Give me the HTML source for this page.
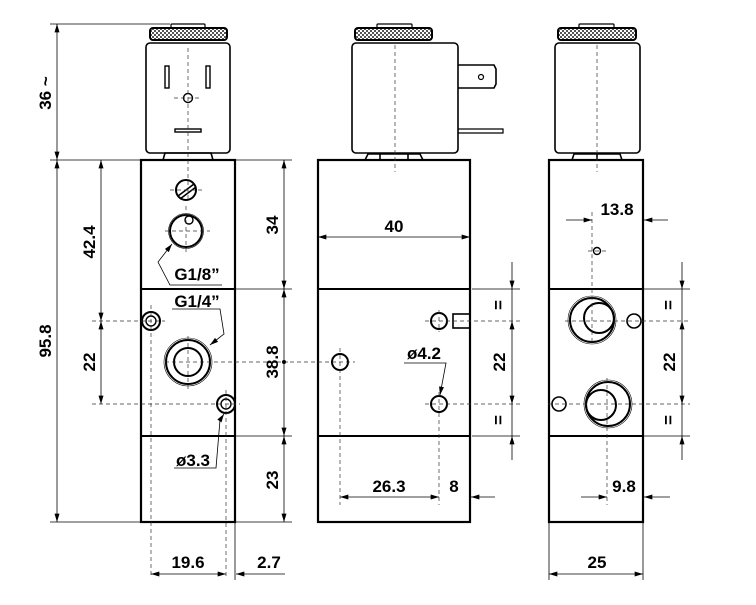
<!DOCTYPE html>
<html><head><meta charset="utf-8"><style>html,body{margin:0;padding:0;background:#fff}svg{display:block}</style></head><body>
<svg width="756" height="605" viewBox="0 0 756 605" xmlns="http://www.w3.org/2000/svg" font-family="Liberation Sans, Arial, sans-serif" font-weight="bold" font-size="17">
<defs>
<pattern id="kn" width="4" height="4" patternUnits="userSpaceOnUse"><rect width="4" height="4" fill="#fff"/><rect width="2" height="2" fill="#555"/><rect x="2" y="2" width="2" height="2" fill="#555"/></pattern>
<marker id="a" viewBox="0 0 10 6" refX="10" refY="3" markerWidth="12" markerHeight="5" orient="auto-start-reverse" markerUnits="userSpaceOnUse"><path d="M0,0L10,3L0,6z" fill="#000"/></marker>
</defs>
<g stroke="#000" fill="none">
<!-- LEFT VIEW -->
<rect x="171" y="24" width="34" height="5" rx="1" stroke-width="1.2"/>
<rect x="150" y="28" width="77" height="12" rx="3" fill="url(#kn)" stroke-width="2"/>
<rect x="146" y="43" width="84" height="110" rx="4" stroke-width="1.6"/>
<path d="M163,160 L165,153 H211 L213,160" stroke-width="1.6"/>
<rect x="141" y="160" width="94" height="362" stroke-width="2.2"/>
<line x1="141" y1="289" x2="235" y2="289" stroke-width="2"/>
<line x1="141" y1="436" x2="235" y2="436" stroke-width="2"/>
<rect x="165" y="66" width="4" height="22" stroke-width="1.4"/>
<rect x="206" y="66" width="4" height="22" stroke-width="1.4"/>
<circle cx="188" cy="98" r="4.5" stroke-width="1.4"/>
<rect x="175" y="129" width="26" height="3" stroke-width="1.4"/>
<circle cx="186" cy="190" r="10" stroke-width="2"/>
<line x1="178" y1="196" x2="194" y2="184" stroke-width="1.6"/><line x1="180" y1="199" x2="196" y2="187" stroke-width="1.6"/>
<circle cx="186" cy="231" r="16" stroke-width="2"/><circle cx="186" cy="231" r="17.5" stroke-width="0.6"/>
<circle cx="189" cy="220" r="4" stroke-width="1.4"/>
<circle cx="151" cy="321" r="9" stroke-width="2"/><circle cx="151" cy="321" r="5" stroke-width="1.4"/>
<circle cx="188" cy="362" r="22" stroke-width="2"/><circle cx="188" cy="362" r="14" stroke-width="2"/><circle cx="188" cy="362" r="24" stroke-width="0.6"/>
<circle cx="226" cy="404" r="9" stroke-width="2"/><circle cx="226" cy="404" r="5" stroke-width="1.4"/>
<g stroke-width="0.7" stroke="#333" stroke-dasharray="4,3">
<line x1="188" y1="48" x2="188" y2="200"/><line x1="174" y1="98" x2="202" y2="98"/>
<line x1="170" y1="190" x2="202" y2="190"/><line x1="186" y1="206" x2="186" y2="252"/><line x1="165" y1="231" x2="210" y2="231"/>
<line x1="92" y1="321" x2="165" y2="321"/><line x1="151" y1="305" x2="151" y2="578"/>
<line x1="165" y1="362" x2="290" y2="362"/><line x1="188" y1="336" x2="188" y2="390"/>
<line x1="92" y1="404" x2="240" y2="404"/><line x1="226" y1="390" x2="226" y2="578"/>
</g>
<g stroke-width="0.8">
<line x1="50" y1="24" x2="170" y2="24"/><line x1="50" y1="160" x2="140" y2="160"/><line x1="50" y1="522" x2="140" y2="522"/>
<line x1="236" y1="160" x2="292" y2="160"/><line x1="236" y1="289" x2="292" y2="289"/><line x1="236" y1="436" x2="292" y2="436"/><line x1="236" y1="522" x2="292" y2="522"/>
<line x1="235" y1="523" x2="235" y2="580"/>
<line x1="57" y1="24" x2="57" y2="160" marker-start="url(#a)" marker-end="url(#a)"/>
<line x1="57" y1="160" x2="57" y2="522" marker-start="url(#a)" marker-end="url(#a)"/>
<line x1="101" y1="160" x2="101" y2="289" marker-start="url(#a)"/>
<line x1="101" y1="289" x2="101" y2="321" marker-end="url(#a)"/>
<line x1="101" y1="321" x2="101" y2="404" marker-start="url(#a)" marker-end="url(#a)"/>
<line x1="284" y1="160" x2="284" y2="289" marker-start="url(#a)" marker-end="url(#a)"/>
<line x1="284" y1="289" x2="284" y2="436" marker-start="url(#a)" marker-end="url(#a)"/>
<line x1="284" y1="436" x2="284" y2="522" marker-start="url(#a)" marker-end="url(#a)"/>
<line x1="151" y1="574" x2="226" y2="574" marker-start="url(#a)" marker-end="url(#a)"/>
<line x1="285" y1="574" x2="236" y2="574" marker-end="url(#a)"/>
<polyline points="222,285 170,285 158,262 172,244" marker-end="url(#a)"/>
<polyline points="172,309 220,309 224,334 210,345" marker-end="url(#a)"/>
<polyline points="174,468 216,468 220,420 224,414" marker-end="url(#a)"/>
</g>
<circle cx="284" cy="362" r="2" fill="#000" stroke="none"/>

<!-- MIDDLE VIEW -->
<rect x="377" y="24" width="35" height="5" rx="1" stroke-width="1.2"/>
<rect x="355" y="28" width="77" height="12" rx="3" fill="url(#kn)" stroke-width="2"/>
<rect x="352" y="43" width="106" height="110" rx="4" stroke-width="1.6"/>
<path d="M458,65 H494 L496,69 V84 L494,88 H458" stroke-width="1.6"/>
<circle cx="481" cy="77" r="2.5" stroke-width="1.2"/>
<path d="M458,129 H503 V133 H458" stroke-width="1.2"/>
<path d="M365,160 L368,154 H420 L423,160 M380,154 V160 M408,154 V160" stroke-width="1.6"/>
<rect x="318" y="160" width="152" height="362" stroke-width="2.2"/>
<line x1="318" y1="289" x2="470" y2="289" stroke-width="2"/>
<line x1="318" y1="436" x2="470" y2="436" stroke-width="2"/>
<circle cx="439" cy="321" r="8" stroke-width="2"/>
<rect x="453" y="314" width="17" height="14" stroke-width="1.6"/>
<circle cx="340" cy="362" r="8" stroke-width="2"/>
<circle cx="439" cy="404" r="8" stroke-width="2"/>
<g stroke-width="0.7" stroke="#333" stroke-dasharray="4,3">
<line x1="395" y1="45" x2="395" y2="172"/>
<line x1="425" y1="321" x2="520" y2="321"/><line x1="439" y1="310" x2="439" y2="332"/>
<line x1="290" y1="362" x2="355" y2="362"/><line x1="340" y1="348" x2="340" y2="505"/>
<line x1="425" y1="404" x2="520" y2="404"/><line x1="439" y1="392" x2="439" y2="505"/>
</g>
<g stroke-width="0.8">
<line x1="318" y1="237" x2="470" y2="237" marker-start="url(#a)" marker-end="url(#a)"/>
<line x1="472" y1="289" x2="520" y2="289"/><line x1="472" y1="436" x2="520" y2="436"/>
<line x1="512" y1="262" x2="512" y2="289" marker-end="url(#a)"/>
<line x1="512" y1="289" x2="512" y2="321"/>
<line x1="512" y1="321" x2="512" y2="404" marker-start="url(#a)" marker-end="url(#a)"/>
<line x1="512" y1="404" x2="512" y2="436"/>
<line x1="512" y1="460" x2="512" y2="436" marker-end="url(#a)"/>
<line x1="340" y1="497" x2="439" y2="497" marker-start="url(#a)" marker-end="url(#a)"/>
<line x1="495" y1="497" x2="471" y2="497" marker-end="url(#a)"/>
<polyline points="404,363 446,363 440,395" marker-end="url(#a)"/>
</g>

<!-- RIGHT VIEW -->
<rect x="579" y="24" width="35" height="5" rx="1" stroke-width="1.2"/>
<rect x="558" y="28" width="78" height="12" rx="3" fill="url(#kn)" stroke-width="2"/>
<rect x="555" y="43" width="85" height="110" rx="4" stroke-width="1.6"/>
<path d="M572,160 L574,154 H620 L622,160 M597,154 V160" stroke-width="1.6"/>
<rect x="549" y="160" width="94" height="362" stroke-width="2.2"/>
<line x1="549" y1="289" x2="643" y2="289" stroke-width="2"/>
<line x1="549" y1="436" x2="643" y2="436" stroke-width="2"/>
<circle cx="597" cy="251" r="3.5" stroke-width="1.4"/>
<circle cx="592" cy="320" r="22" stroke-width="2"/><circle cx="592" cy="320" r="24" stroke-width="0.6"/>
<circle cx="599" cy="318" r="15" stroke-width="2"/>
<circle cx="634" cy="321" r="7" stroke-width="1.6"/>
<circle cx="608" cy="404" r="22" stroke-width="2"/><circle cx="608" cy="404" r="24" stroke-width="0.6"/>
<circle cx="601" cy="405" r="15" stroke-width="2"/>
<circle cx="559" cy="404" r="7" stroke-width="1.6"/>
<g stroke-width="0.7" stroke="#333" stroke-dasharray="4,3">
<line x1="597" y1="45" x2="597" y2="172"/>
<line x1="592" y1="212" x2="592" y2="345"/><line x1="588" y1="251" x2="606" y2="251"/>
<line x1="565" y1="321" x2="690" y2="321"/>
<line x1="548" y1="404" x2="690" y2="404"/><line x1="607" y1="378" x2="607" y2="505"/>
</g>
<g stroke-width="0.8">
<line x1="566" y1="220" x2="592" y2="220" marker-end="url(#a)"/>
<line x1="668" y1="220" x2="644" y2="220" marker-end="url(#a)"/>
<line x1="644" y1="289" x2="690" y2="289"/><line x1="644" y1="436" x2="690" y2="436"/>
<line x1="682" y1="262" x2="682" y2="289" marker-end="url(#a)"/>
<line x1="682" y1="289" x2="682" y2="321"/>
<line x1="682" y1="321" x2="682" y2="404" marker-start="url(#a)" marker-end="url(#a)"/>
<line x1="682" y1="404" x2="682" y2="436"/>
<line x1="682" y1="460" x2="682" y2="436" marker-end="url(#a)"/>
<line x1="581" y1="497" x2="607" y2="497" marker-end="url(#a)"/>
<line x1="670" y1="497" x2="644" y2="497" marker-end="url(#a)"/>
<line x1="549" y1="523" x2="549" y2="580"/><line x1="643" y1="523" x2="643" y2="580"/>
<line x1="549" y1="574" x2="643" y2="574" marker-start="url(#a)" marker-end="url(#a)"/>
</g>
</g>
<g fill="#000">
<text transform="translate(51,93) rotate(-90)" text-anchor="middle">36 ~</text>
<text transform="translate(51,341) rotate(-90)" text-anchor="middle">95.8</text>
<text transform="translate(95,242) rotate(-90)" text-anchor="middle">42.4</text>
<text transform="translate(95,362) rotate(-90)" text-anchor="middle">22</text>
<text transform="translate(278,225) rotate(-90)" text-anchor="middle">34</text>
<text transform="translate(278,362) rotate(-90)" text-anchor="middle">38.8</text>
<text transform="translate(278,480) rotate(-90)" text-anchor="middle">23</text>
<text x="197" y="280" text-anchor="middle">G1/8”</text>
<text x="197" y="307" text-anchor="middle">G1/4”</text>
<text x="193" y="466" text-anchor="middle">ø3.3</text>
<text x="188" y="568" text-anchor="middle">19.6</text>
<text x="269" y="568" text-anchor="middle">2.7</text>
<text x="394" y="232" text-anchor="middle">40</text>
<text x="424" y="359" text-anchor="middle">ø4.2</text>
<text x="389" y="492" text-anchor="middle">26.3</text>
<text x="454" y="492" text-anchor="middle">8</text>
<text transform="translate(504,305) rotate(-90)" text-anchor="middle">=</text>
<text transform="translate(505,362) rotate(-90)" text-anchor="middle">22</text>
<text transform="translate(504,420) rotate(-90)" text-anchor="middle">=</text>
<text x="617" y="215" text-anchor="middle">13.8</text>
<text transform="translate(674,305) rotate(-90)" text-anchor="middle">=</text>
<text transform="translate(675,362) rotate(-90)" text-anchor="middle">22</text>
<text transform="translate(674,420) rotate(-90)" text-anchor="middle">=</text>
<text x="624" y="492" text-anchor="middle">9.8</text>
<text x="597" y="568" text-anchor="middle">25</text>
</g>
</svg>
</body></html>
